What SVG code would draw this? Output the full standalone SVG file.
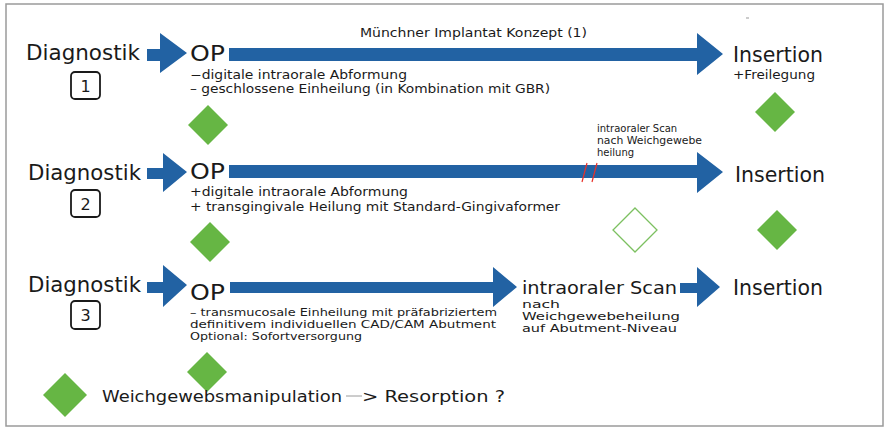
<svg xmlns="http://www.w3.org/2000/svg" width="886" height="430" viewBox="0 0 886 430">
<style>
.arr{fill:#2262a3}
.dia{fill:#66b644}
.hol{fill:none;stroke:#7cc060;stroke-width:1.3}
text{font-family:"DejaVu Sans","Liberation Sans",Arial,sans-serif;fill:#1a1a1a}
.big{font-size:21.5px}
.op{font-size:21px}
.mid{font-size:12px}
.sm{font-size:10.5px}
.tiny{font-size:10px}
.num{font-size:16px;text-anchor:middle}
.box{fill:#fff;stroke:#1a1a1a;stroke-width:1.8}
</style>
<rect x="6" y="4" width="877" height="422" fill="#fff" stroke="#9a9a9a" stroke-width="1.5"/>
<line x1="746" y1="18" x2="749" y2="18" stroke="#999" stroke-width="1"/>

<g id="connectors">
  <polygon class="arr" points="147,49 160,49 160,33 187,53 160,73 160,61 147,61"/>
  <polygon class="arr" points="229,48 697,48 697,33 723,54 697,75 697,61 229,61"/>
  <polygon class="arr" points="147,168 163,168 163,153 187,172 163,192 163,179 147,179"/>
  <polygon class="arr" points="229,165 697,165 697,152 723,172 697,193 697,178 229,178"/>
  <line x1="587" y1="163" x2="582" y2="182" stroke="#e8322a" stroke-width="1.2"/>
  <line x1="597" y1="163" x2="592" y2="182" stroke="#e8322a" stroke-width="1.2"/>
  <polygon class="arr" points="147,282 163,282 163,265 187,285 163,307 163,293 147,293"/>
  <polygon class="arr" points="230,282 493,282 493,267 517,287 493,307 493,293 230,293"/>
  <polygon class="arr" points="680,283 697,283 697,267 720,287 697,307 697,293 680,293"/>
</g>

<g id="label-konzept"><text class="mid" x="360" y="37" textLength="227" lengthAdjust="spacingAndGlyphs">Münchner Implantat Konzept (1)</text></g>

<g id="row1-diagnostik">
  <text class="big" x="26" y="60" textLength="114" lengthAdjust="spacingAndGlyphs">Diagnostik</text>
  <rect class="box" x="71" y="72" width="29" height="27" rx="4"/>
  <text class="num" x="85.5" y="91.5">1</text>
</g>
<g id="row1-op">
  <text class="op" x="190" y="61" textLength="35" lengthAdjust="spacingAndGlyphs">OP</text>
  <text class="mid" x="190" y="79" textLength="217" lengthAdjust="spacingAndGlyphs">−digitale intraorale Abformung</text>
  <text class="mid" x="190" y="93" textLength="360" lengthAdjust="spacingAndGlyphs">– geschlossene Einheilung (in Kombination mit GBR)</text>
</g>
<g id="row1-dia"><polygon class="dia" points="208,105 228,125 208,145 188,125"/></g>
<g id="row1-insertion">
  <text class="big" x="733" y="62" textLength="90" lengthAdjust="spacingAndGlyphs">Insertion</text>
  <text class="mid" x="733" y="79" textLength="82" lengthAdjust="spacingAndGlyphs">+Freilegung</text>
</g>
<g id="row1-dia2"><polygon class="dia" points="775,92 795,112 775,132 755,112"/></g>

<g id="row2-diagnostik">
  <text class="big" x="28" y="180" textLength="113" lengthAdjust="spacingAndGlyphs">Diagnostik</text>
  <rect class="box" x="71" y="190" width="29" height="27" rx="4"/>
  <text class="num" x="85.5" y="209.5">2</text>
</g>
<g id="row2-op">
  <text class="op" x="190" y="179" textLength="35" lengthAdjust="spacingAndGlyphs">OP</text>
  <text class="mid" x="190" y="196" textLength="218" lengthAdjust="spacingAndGlyphs">+digitale intraorale Abformung</text>
  <text class="mid" x="190" y="211" textLength="370" lengthAdjust="spacingAndGlyphs">+ transgingivale Heilung mit Standard-Gingivaformer</text>
</g>
<g id="row2-scan">
  <text class="tiny" x="597" y="132">intraoraler Scan</text>
  <text class="tiny" x="597" y="144" textLength="105" lengthAdjust="spacingAndGlyphs">nach Weichgewebe</text>
  <text class="tiny" x="597" y="156">heilung</text>
</g>
<g id="row2-dia"><polygon class="dia" points="210,222 230,242 210,262 190,242"/></g>
<g id="row2-dia-hollow"><polygon class="hol" points="635,208 657,230 635,252 613,230"/></g>
<g id="row2-insertion"><text class="big" x="735" y="182" textLength="90" lengthAdjust="spacingAndGlyphs">Insertion</text></g>
<g id="row2-dia2"><polygon class="dia" points="777,210 797,230 777,250 757,230"/></g>

<g id="row3-diagnostik">
  <text class="big" x="28" y="292" textLength="113" lengthAdjust="spacingAndGlyphs">Diagnostik</text>
  <rect class="box" x="71" y="301" width="29" height="28" rx="4"/>
  <text class="num" x="85.5" y="321">3</text>
</g>
<g id="row3-op">
  <text class="op" x="190" y="300" textLength="35" lengthAdjust="spacingAndGlyphs">OP</text>
  <text class="sm" x="190" y="316" textLength="307" lengthAdjust="spacingAndGlyphs">– transmucosale Einheilung mit präfabriziertem</text>
  <text class="sm" x="190" y="328" textLength="306" lengthAdjust="spacingAndGlyphs">definitivem individuellen CAD/CAM Abutment</text>
  <text class="sm" x="190" y="340" textLength="172" lengthAdjust="spacingAndGlyphs">Optional: Sofortversorgung</text>
</g>
<g id="row3-scan">
  <text x="522" y="294" style="font-size:17px" textLength="155" lengthAdjust="spacingAndGlyphs">intraoraler Scan</text>
  <text class="sm" x="522" y="308" textLength="38" lengthAdjust="spacingAndGlyphs">nach</text>
  <text class="sm" x="522" y="320" textLength="158" lengthAdjust="spacingAndGlyphs">Weichgewebeheilung</text>
  <text class="sm" x="522" y="332" textLength="155" lengthAdjust="spacingAndGlyphs">auf Abutment-Niveau</text>
</g>
<g id="row3-insertion"><text class="big" x="733" y="295" textLength="90" lengthAdjust="spacingAndGlyphs">Insertion</text></g>
<g id="row3-dia"><polygon class="dia" points="207,352 227,372 207,392 187,372"/></g>

<g id="legend">
  <polygon class="dia" points="65,373 87,395 65,417 43,395"/>
  <text x="102" y="402" style="font-size:16px" textLength="240" lengthAdjust="spacingAndGlyphs">Weichgewebsmanipulation</text>
  <line x1="346" y1="396" x2="362" y2="396" stroke="#9a9a9a" stroke-width="1"/>
  <text x="362" y="402" style="font-size:16px" textLength="143" lengthAdjust="spacingAndGlyphs">&gt; Resorption ?</text>
</g>
</svg>
